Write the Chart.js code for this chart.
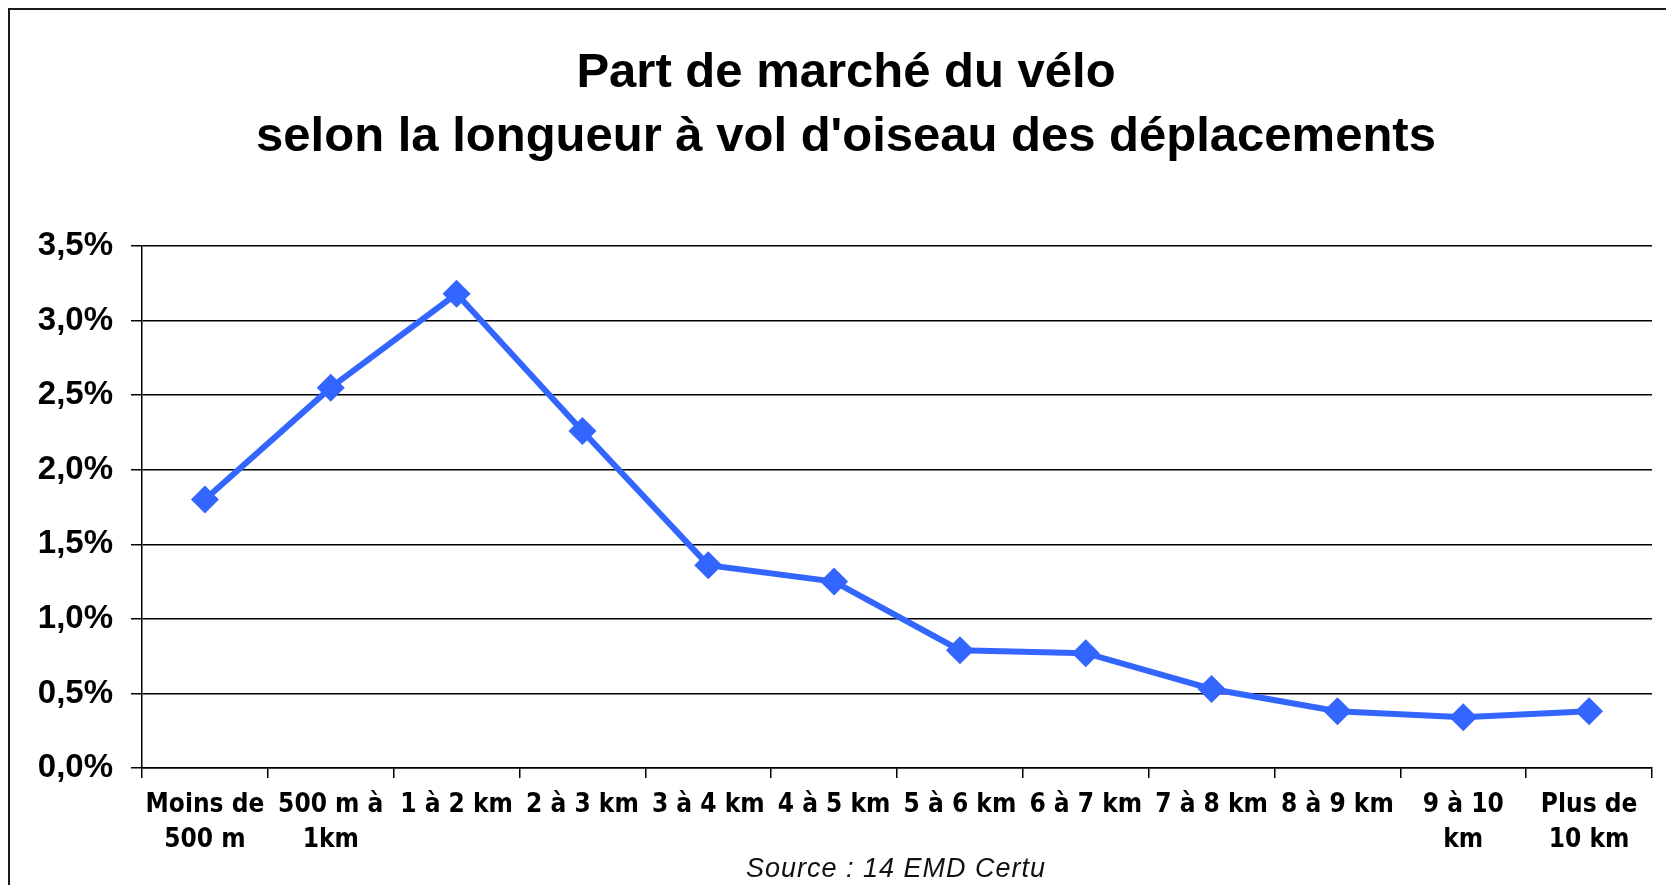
<!DOCTYPE html>
<html>
<head>
<meta charset="utf-8">
<script src="https://cdn.jsdelivr.net/npm/chart.js@4/dist/chart.umd.min.js"></script>
<style>
  html, body { margin: 0; padding: 0; background: #ffffff; }
  #wrap { width: 1666px; height: 885px; }
</style>
</head>
<body>
<div id="wrap"><canvas id="c" width="1666" height="885"></canvas></div>
<script>
const categories = [
  ["Moins de", "500 m"],
  ["500 m à", "1km"],
  "1 à 2 km",
  "2 à 3 km",
  "3 à 4 km",
  "4 à 5 km",
  "5 à 6 km",
  "6 à 7 km",
  "7 à 8 km",
  "8 à 9 km",
  ["9 à 10", "km"],
  ["Plus de", "10 km"]
];
const shareValues = [1.80, 2.55, 3.18, 2.26, 1.36, 1.25, 0.79, 0.77, 0.53, 0.38, 0.34, 0.38];
const yTicks = [0, 0.5, 1.0, 1.5, 2.0, 2.5, 3.0, 3.5];
const yTickLabels = ["0,0%", "0,5%", "1,0%", "1,5%", "2,0%", "2,5%", "3,0%", "3,5%"];
const titleLines = ["Part de marché du vélo", "selon la longueur à vol d'oiseau des déplacements"];
const sourceText = "Source : 14 EMD Certu";

const frameAndSource = {
  id: 'frameAndSource',
  beforeDraw(chart) {
    const ctx = chart.ctx;
    ctx.save();
    ctx.fillStyle = '#ffffff';
    ctx.fillRect(0, 0, chart.width, chart.height);
    ctx.strokeStyle = '#1a1a1a';
    ctx.lineWidth = 2;
    ctx.strokeRect(9, 9, chart.width + 40, chart.height + 40);
    ctx.restore();
  },
  afterDraw(chart) {
    const ctx = chart.ctx;
    const a = chart.chartArea;
    ctx.save();
    ctx.font = 'italic 27px "Liberation Sans", Arial, sans-serif';
    ctx.fillStyle = '#111111';
    ctx.textAlign = 'center';
    ctx.textBaseline = 'alphabetic';
    try { ctx.letterSpacing = '1px'; } catch (e) {}
    ctx.fillText(sourceText, (a.left + a.right) / 2 - 1, chart.height - 8);
    ctx.restore();
  }
};

new Chart(document.getElementById('c'), {
  type: 'line',
  data: {
    labels: categories,
    datasets: [{
      label: 'Part de marché du vélo',
      data: shareValues,
      borderColor: '#3366ff',
      backgroundColor: '#3366ff',
      borderWidth: 6,
      pointStyle: 'rectRot',
      pointRadius: 14,
      pointHoverRadius: 14,
      pointBorderWidth: 0,
      pointBackgroundColor: '#3366ff',
      tension: 0,
      fill: false
    }]
  },
  options: {
    responsive: false,
    animation: false,
    devicePixelRatio: 1,
    layout: { padding: { left: 29, right: 3, top: 0, bottom: 0 } },
    plugins: {
      legend: { display: false },
      tooltip: { enabled: false },
      title: {
        display: true,
        text: titleLines,
        color: '#000000',
        font: { family: '"Liberation Sans", Arial, sans-serif', size: 49, weight: 'bold', lineHeight: 64 / 49 },
        padding: { top: 41, bottom: 77 }
      }
    },
    scales: {
      x: {
        type: 'category',
        offset: true,
        afterFit(scale) { scale.height = 117; },
        grid: {
          offset: true,
          drawOnChartArea: false,
          drawTicks: true,
          tickLength: 10,
          color: '#000000',
          lineWidth: 1.5
        },
        border: { display: true, color: '#000000', width: 1.5 },
        ticks: {
          autoSkip: false,
          maxRotation: 0,
          minRotation: 0,
          padding: 10,
          color: '#000000',
          font: { family: '"DejaVu Sans Condensed", sans-serif', size: 26, weight: 'bold', lineHeight: 35 / 26 }
        }
      },
      y: {
        min: 0,
        max: 3.5,
        afterFit(scale) { scale.width = 113; },
        afterBuildTicks(scale) { scale.ticks = yTicks.map(v => ({ value: v })); },
        grid: {
          drawTicks: true,
          tickLength: 11,
          color: '#000000',
          lineWidth: 1.5
        },
        border: { display: true, color: '#000000', width: 1.5 },
        ticks: {
          padding: 18,
          color: '#000000',
          font: { family: '"Liberation Sans", Arial, sans-serif', size: 33, weight: 'bold' },
          callback(value) {
            const i = yTicks.findIndex(t => Math.abs(t - value) < 1e-9);
            return i >= 0 ? yTickLabels[i] : '';
          }
        }
      }
    }
  },
  plugins: [frameAndSource]
});
</script>
</body>
</html>
